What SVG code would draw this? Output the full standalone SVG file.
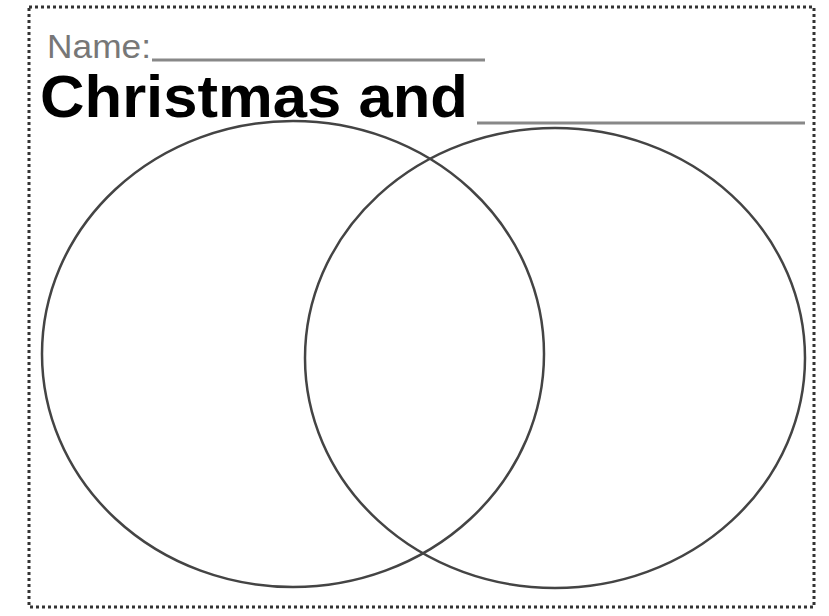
<svg xmlns="http://www.w3.org/2000/svg" width="829" height="616" viewBox="0 0 829 616">
<style>
.border{fill:none;stroke:#333;stroke-width:3;stroke-dasharray:3 3}
.circ{fill:none;stroke:#444;stroke-width:2.5}
.rule{stroke:#888;stroke-width:3}
.name{font-family:"Liberation Sans",Arial,sans-serif;font-size:34px;fill:#777}
.title{font-family:"Liberation Sans",Arial,sans-serif;font-weight:bold;font-size:59px;fill:#000}
</style>
<rect width="829" height="616" fill="#fff"/>
<rect class="border" x="29" y="7" width="785" height="600"/>
<g id="header">
<text class="name" x="47" y="58" textLength="104" lengthAdjust="spacingAndGlyphs">Name:</text>
<line class="rule" x1="152" y1="60" x2="485" y2="60"/>
<text class="title" x="40" y="117" textLength="428" lengthAdjust="spacingAndGlyphs">Christmas and</text>
<line class="rule" x1="477" y1="123" x2="805" y2="123"/>
</g>
<g id="left-circle"><ellipse class="circ" cx="293" cy="354" rx="251" ry="233"/></g>
<g id="right-circle"><ellipse class="circ" cx="555" cy="358" rx="250" ry="230"/></g>
</svg>
